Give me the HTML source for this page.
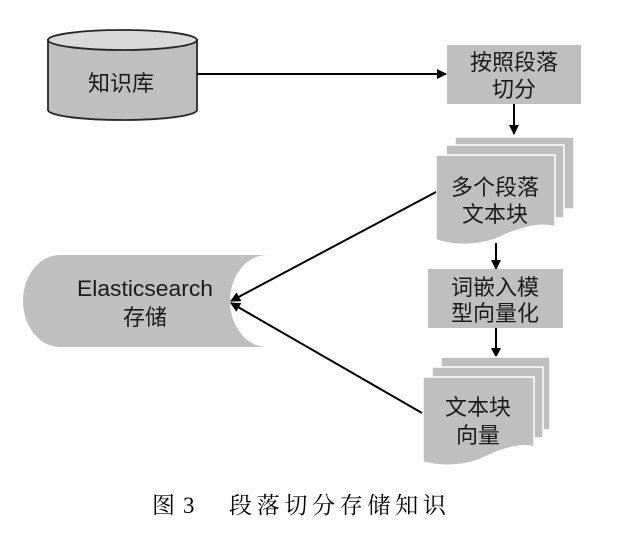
<!DOCTYPE html>
<html>
<head>
<meta charset="utf-8">
<style>
html,body{margin:0;padding:0;background:#fff;}
svg{display:block;}
.s{font-family:"Liberation Sans","Noto Sans CJK SC",sans-serif;font-size:22px;fill:#1a1a1a;text-anchor:middle;}
.cap{font-family:"Liberation Serif","Noto Serif CJK SC",serif;font-size:23px;fill:#000;}
</style>
</head>
<body>
<svg width="617" height="544" viewBox="0 0 617 544" xmlns="http://www.w3.org/2000/svg">
<defs>
<marker id="ah" markerWidth="10" markerHeight="10" refX="9" refY="5" orient="auto" markerUnits="userSpaceOnUse">
<path d="M0,0 L10,5 L0,10 Z" fill="#000"/>
</marker>
</defs>

<!-- Cylinder -->
<path d="M48,40 L48,110 A74.5,10 0 0 0 197,110 L197,40 Z" fill="#bfbfbf" stroke="#262626" stroke-width="1.8"/>
<ellipse cx="122.5" cy="40" rx="74.5" ry="10" fill="#d9d9d9" stroke="#262626" stroke-width="1.8"/>
<text class="s" x="121" y="91" font-size="24">知识库</text>

<!-- arrow cylinder -> box1 -->
<line x1="197" y1="74" x2="446" y2="74" stroke="#000" stroke-width="2" marker-end="url(#ah)"/>

<!-- Box 1 -->
<rect x="447" y="45" width="134" height="59" fill="#bfbfbf"/>
<text class="s" x="514" y="70">按照段落</text>
<text class="s" x="514" y="97">切分</text>

<!-- arrow box1 -> doc1 -->
<line x1="514" y1="104" x2="514" y2="134" stroke="#000" stroke-width="2" marker-end="url(#ah)"/>

<!-- Doc stack 1 -->
<rect x="455" y="137" width="119" height="72" fill="#bfbfbf" stroke="#fff" stroke-width="1.5"/>
<rect x="446" y="145" width="118" height="73" fill="#bfbfbf" stroke="#fff" stroke-width="1.5"/>
<path d="M436,155 L555,155 L555,227 C540,222 520,228 500,237 C485,244 460,248 436,240 Z" fill="#bfbfbf" stroke="#fff" stroke-width="1.5"/>
<text class="s" x="495" y="195">多个段落</text>
<text class="s" x="495" y="222">文本块</text>

<!-- arrow doc1 -> box2 -->
<line x1="496" y1="243" x2="496" y2="269" stroke="#000" stroke-width="2" marker-end="url(#ah)"/>

<!-- Box 2 -->
<rect x="428" y="269" width="135" height="59" fill="#bfbfbf"/>
<text class="s" x="495" y="295">词嵌入模</text>
<text class="s" x="495" y="321">型向量化</text>

<!-- arrow box2 -> doc2 -->
<line x1="496" y1="328" x2="496" y2="357" stroke="#000" stroke-width="2" marker-end="url(#ah)"/>

<!-- Doc stack 2 -->
<rect x="441" y="357" width="109" height="73" fill="#bfbfbf" stroke="#fff" stroke-width="1.5"/>
<rect x="432" y="367" width="111" height="71" fill="#bfbfbf" stroke="#fff" stroke-width="1.5"/>
<path d="M423,377 L534,377 L534,447 C520,443 500,450 485,457 C470,465 445,468 423,462 Z" fill="#bfbfbf" stroke="#fff" stroke-width="1.5"/>
<text class="s" x="478" y="415">文本块</text>
<text class="s" x="478" y="443">向量</text>

<!-- Elasticsearch shape -->
<path d="M60,255 L267,255 A37,46 0 0 0 267,347 L60,347 A37,46 0 0 1 60,255 Z" fill="#bfbfbf"/>
<text class="s" x="145" y="296" textLength="136" lengthAdjust="spacingAndGlyphs">Elasticsearch</text>
<text class="s" x="145" y="325">存储</text>

<!-- arrows to elasticsearch -->
<line x1="436" y1="192" x2="231" y2="301" stroke="#000" stroke-width="2" marker-end="url(#ah)"/>
<line x1="422" y1="413" x2="231" y2="303" stroke="#000" stroke-width="2" marker-end="url(#ah)"/>

<!-- Caption -->
<text class="cap" x="152" y="513">图</text>
<text class="cap" x="183" y="513">3</text>
<text class="cap" x="229" y="513" letter-spacing="4.7">段落切分存储知识</text>
</svg>
</body>
</html>
